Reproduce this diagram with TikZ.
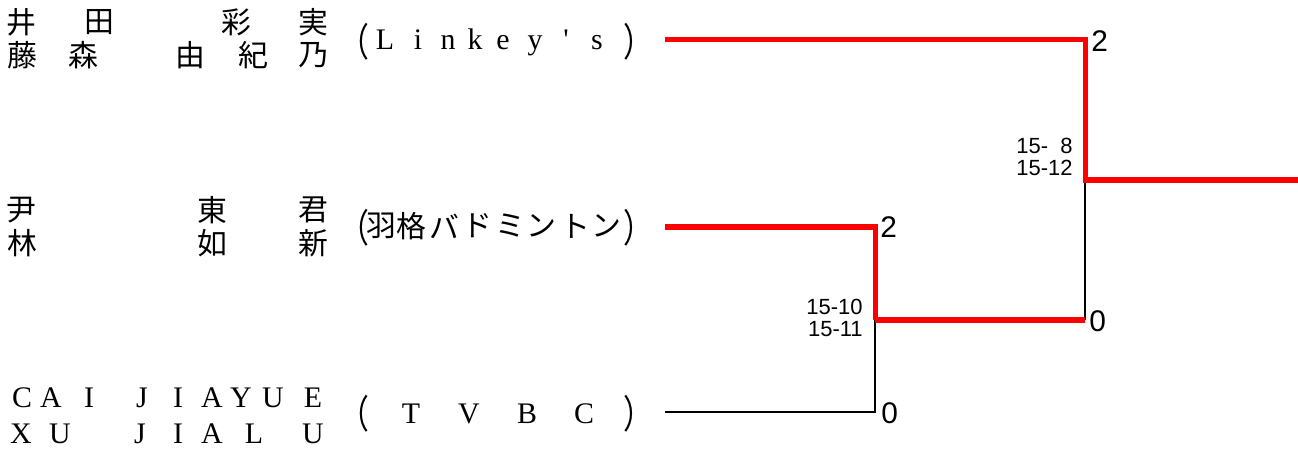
\documentclass[tikz,border=0pt]{standalone}
\usepackage{fontspec}
\setmainfont{Liberation Serif}
\newfontfamily\cjk{Noto Sans CJK JP}
\newfontfamily\scorefont{Liberation Sans}

\tikzset{
  ch/.style={inner sep=0pt, font=\cjk\fontsize{17pt}{19pt}\selectfont},
  lat/.style={inner sep=0pt, anchor=base, font=\fontsize{17pt}{19pt}\selectfont},
  winner/.style={draw=red, line width=2.85pt},
  loser/.style={draw=black, line width=0.6pt},
  games/.style={inner sep=0pt, anchor=west, font=\scorefont\fontsize{17pt}{18pt}\selectfont},
  setscore/.style={inner sep=0pt, anchor=east, align=right,
    font=\scorefont\fontsize{12.5pt}{12.5pt}\selectfont}
}

% one row of spaced characters: style, y, name, x/char list
\newcommand{\charrow}[4]{%
  \foreach \x/\c [count=\i] in {#4}
    \node[#1] (#3-\i) at (\x,#2) {\c};}
% tall full-width brackets
\newcommand{\lpar}{\scalebox{1}[1.3]{（}}
\newcommand{\rpar}{\scalebox{1}[1.3]{）}}

\begin{document}
\begin{tikzpicture}[x=0.02cm, y=-0.02cm]

    \useasboundingbox (0,0) rectangle (1298,452);

    % Player names
    \charrow{ch}{22}{ida}{21/井,99/田,236/彩,313/実}
    \charrow{ch}{55}{fuj}{22/藤,83/森,190/由,253/紀,313/乃}
    \charrow{ch}{210}{yin}{21/尹,212/東,313/君}
    \charrow{ch}{243}{lin}{22/林,212/如,313/新}
    \charrow{lat}{407}{cai}{22/C,51/A,89/I,142/J,178/I,212/A,241/Y,273/U,313/E}
    \charrow{lat}{443}{xu}{21/X,60/U,140/J,178/I,212/A,254/L,313/U}

    % Team names
    \node[ch, anchor=east] (lk-l) at (370,42) {\lpar};
    \charrow{lat}{50}{lk}{385/L,418/i,448/n,475/k,503/e,535/y,566/\textquotesingle,597/s}
    \node[ch, anchor=west] (lk-r) at (623,42) {\rpar};

    \node[ch, anchor=east] (hk-l) at (370,228) {\lpar};
    \charrow{ch}{226}{hk}{381/羽,411/格,444/バ,477/ド,510/ミ,541/ン,575/ト,606/ン}
    \node[ch, anchor=west] (hk-r) at (623,228) {\rpar};

    \node[ch, anchor=east] (tv-l) at (370,414) {\lpar};
    \charrow{lat}{423}{tv}{411/T,469/V,527/B,584/C}
    \node[ch, anchor=west] (tv-r) at (623,414) {\rpar};

    % Bracket points
    \coordinate (e1) at (665,40);
    \coordinate (e2) at (665,227);
    \coordinate (e3) at (665,412);
    \coordinate (m1) at (875,320);
    \coordinate (f2) at (1085,320);
    \coordinate (m2) at (1085,180);
    \coordinate (w) at (1298,180);

    % Semifinal
    \draw[loser] (e3) -| (m1);
    \draw[winner] (e2) -| (m1);

    % Final
    \draw[loser] (f2) -- (m2);
    \draw[winner] (m1) -- (f2);
    \draw[winner] (e1) -| (m2) -- (w);

    % Games won
    \node[games] (g1) at (1091,41.5) {2};
    \node[games] (g2) at (880,227.5) {2};
    \node[games] (g3) at (1089,321.5) {0};
    \node[games] (g4) at (881,413) {0};

    % Set scores
    \node[setscore] (sc1) at (1073,157) {15-\hphantom{1}8\\15-12};
    \node[setscore] (sc2) at (863,318) {15-10\\15-11};

\end{tikzpicture}
\end{document}
